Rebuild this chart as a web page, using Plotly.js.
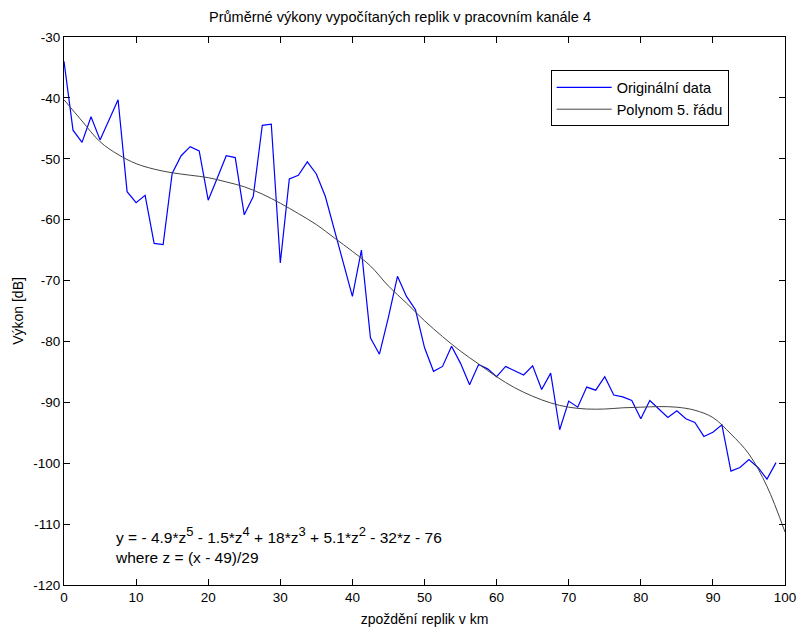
<!DOCTYPE html>
<html>
<head>
<meta charset="utf-8">
<script src="https://cdn.plot.ly/plotly-3.0.1.min.js"></script>
<style>html,body{margin:0;padding:0;background:#fff;}#chart{width:800px;height:632px;}</style>
</head>
<body>
<div id="chart"></div>
<script>
// Original data: delay in km (step 1.25 km) and power in dB
const dataX = [0,1.25,2.5,3.75,5,6.25,7.5,8.75,10,11.25,12.5,13.75,15,16.25,17.5,18.75,20,21.25,22.5,23.75,
  25,26.25,27.5,28.75,30,31.25,32.5,33.75,35,36.25,37.5,38.75,40,41.25,42.5,43.75,45,46.25,47.5,48.75,
  50,51.25,52.5,53.75,55,56.25,57.5,58.75,60,61.25,62.5,63.75,65,66.25,67.5,68.75,70,71.25,72.5,73.75,
  75,76.25,77.5,78.75,80,81.25,82.5,83.75,85,86.25,87.5,88.75,90,91.25,92.5,93.75,95,96.25,97.5,98.75];
const dataY = [-34.0,-45.3,-47.3,-43.1,-46.9,-43.5,-40.3,-55.4,-57.2,-56.0,-63.9,-64.1,-52.4,-49.5,-48.0,-48.7,-56.8,-53.2,-49.5,-49.8,
  -59.2,-56.2,-44.5,-44.3,-67.1,-53.3,-52.7,-50.5,-52.5,-56.2,-61.6,-67.0,-72.6,-65.0,-79.4,-82.1,-76.0,-69.3,-72.6,-74.8,
  -81.0,-84.9,-84.1,-80.8,-83.6,-87.1,-83.8,-84.5,-85.8,-84.1,-84.8,-85.5,-84.0,-87.9,-85.2,-94.5,-89.8,-90.8,-87.5,-88.0,
  -85.8,-88.8,-89.1,-89.7,-92.7,-89.7,-91.1,-92.5,-91.4,-92.7,-93.3,-95.6,-94.9,-93.7,-101.3,-100.7,-99.4,-100.7,-102.6,-99.9];

// 5th order polynomial fit
const polyX = [0,2.5,5,7.5,10,12.5,15,17.5,20,22.5,25,27.5,30,32.5,35,37.5,40,42.5,45,47.5,
  50,52.5,55,57.5,60,62.5,65,67.5,70,72.5,75,77.5,80,82.5,85,87.5,90,92.5,95,97.5,100];
const polyY = [-40.3,-43.8,-47.2,-49.3,-50.8,-51.7,-52.3,-52.7,-53.1,-53.8,-54.6,-55.8,-57.3,-59.0,-60.8,-63.0,-65.2,-67.6,-70.9,-73.7,
  -76.6,-79.2,-81.6,-83.7,-85.8,-87.6,-89.0,-90.1,-90.8,-91.1,-91.1,-90.9,-90.8,-90.7,-90.8,-91.3,-92.5,-95.2,-98.5,-103.8,-111.3];

const seriesNames = ['Originální data', 'Polynom 5. řádu'];
const titleText = 'Průměrné výkony vypočítaných replik v pracovním kanále 4';
const xTitle = 'zpoždění replik v km';
const yTitle = 'Výkon [dB]';
const sup = s => '<sup><span style="font-size:13px">' + s + '</span></sup>';
const eqText = 'y = - 4.9*z' + sup('5') + ' - 1.5*z' + sup('4') + ' + 18*z' + sup('3') + ' + 5.1*z' + sup('2') + ' - 32*z - 76<br>where z = (x - 49)/29';
const xTicks = [0,10,20,30,40,50,60,70,80,90,100];
const yTicks = [-120,-110,-100,-90,-80,-70,-60,-50,-40,-30];

const fam = 'Liberation Sans, Arial, sans-serif';
const font = {family: fam, size: 13.5, color: '#000'};

const traces = [
  {x: dataX, y: dataY, type: 'scatter', mode: 'lines', name: seriesNames[0], legendgroup: 'g1',
   line: {color: '#0000ff', width: 1.2}},
  {x: polyX, y: polyY, type: 'scatter', mode: 'lines', name: seriesNames[1], legendgroup: 'g2',
   line: {color: '#444444', width: 1, shape: 'spline'}}
];

const axisCommon = {
  showline: true, linecolor: '#000', linewidth: 1, mirror: 'ticks',
  ticks: 'inside', ticklen: 6, tickcolor: '#000', tickwidth: 1,
  showgrid: false, zeroline: false, tickfont: font
};

const layout = {
  width: 800, height: 632,
  paper_bgcolor: '#fff', plot_bgcolor: '#fff',
  margin: {l: 64, r: 15, t: 37, b: 47},
  font: font,
  title: {text: titleText, font: {family: fam, size: 14.5, color: '#000'}, x: 0.5, xanchor: 'center', y: 0.973, yanchor: 'middle'},
  xaxis: Object.assign({}, axisCommon, {range: [0, 100], tickvals: xTicks, ticktext: xTicks.map(String),
    title: {text: xTitle, font: {family: fam, size: 14, color: '#000'}, standoff: 9}}),
  yaxis: Object.assign({}, axisCommon, {range: [-120, -30], tickvals: yTicks, ticktext: yTicks.map(String),
    title: {text: yTitle, font: {family: fam, size: 14, color: '#000'}, standoff: 6}}),
  showlegend: true,
  legend: {x: 0.675, y: 0.939, xanchor: 'left', yanchor: 'top', bgcolor: '#fff', bordercolor: '#000', borderwidth: 1,
    font: {family: fam, size: 14.5, color: '#000'}, tracegroupgap: 4, itemwidth: 55, traceorder: 'normal'},
  annotations: [{x: 6.8, y: -113.4, xref: 'x', yref: 'y', text: eqText, showarrow: false, xanchor: 'left', yanchor: 'middle', align: 'left',
    font: {family: fam, size: 15.5, color: '#000'}}]
};

Plotly.newPlot('chart', traces, layout, {displayModeBar: false, staticPlot: true});
</script>
</body>
</html>
